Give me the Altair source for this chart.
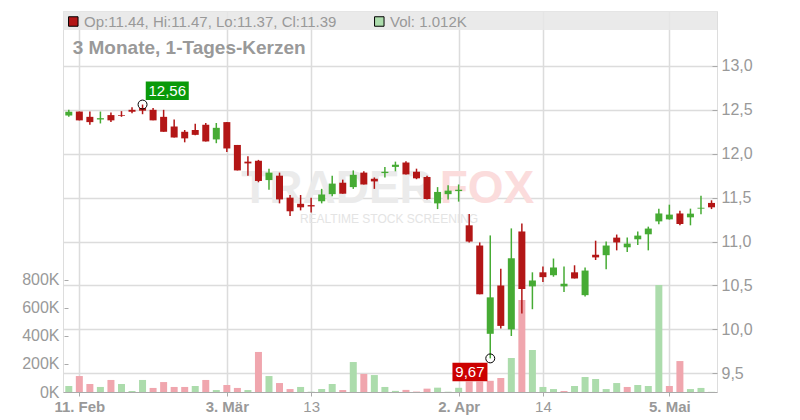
import altair as alt
import pandas as pd

# ---------------- data ----------------
dates = [
    "2025-02-10", "2025-02-11", "2025-02-12", "2025-02-13", "2025-02-14",
    "2025-02-17", "2025-02-18", "2025-02-19", "2025-02-20", "2025-02-21",
    "2025-02-24", "2025-02-25", "2025-02-26", "2025-02-27", "2025-02-28",
    "2025-03-03", "2025-03-04", "2025-03-05", "2025-03-06", "2025-03-07",
    "2025-03-10", "2025-03-11", "2025-03-12", "2025-03-13", "2025-03-14",
    "2025-03-17", "2025-03-18", "2025-03-19", "2025-03-20", "2025-03-21",
    "2025-03-24", "2025-03-25", "2025-03-26", "2025-03-27", "2025-03-28",
    "2025-03-31", "2025-04-01", "2025-04-02", "2025-04-03", "2025-04-04",
    "2025-04-07", "2025-04-08", "2025-04-09", "2025-04-10", "2025-04-11",
    "2025-04-14", "2025-04-15", "2025-04-16", "2025-04-17", "2025-04-22",
    "2025-04-23", "2025-04-24", "2025-04-25", "2025-04-28", "2025-04-29",
    "2025-04-30", "2025-05-02", "2025-05-05", "2025-05-06", "2025-05-07",
    "2025-05-08", "2025-05-09",
]

opens = [
    12.435, 12.48, 12.42, 12.39, 12.44, 12.44, 12.50, 12.52, 12.50, 12.42,
    12.31, 12.25, 12.27, 12.33, 12.163, 12.36, 12.10, 11.91, 11.92, 11.70,
    11.75, 11.50, 11.43, 11.415, 11.46, 11.54, 11.67, 11.62, 11.785, 11.715,
    11.78, 11.85, 11.90, 11.795, 11.735, 11.435, 11.54, 11.575, 11.185, 10.955,
    9.95, 10.50, 10.00, 11.115, 10.49, 10.65, 10.617, 10.49, 10.65, 10.39,
    10.85, 10.845, 11.045, 10.935, 11.026, 11.083, 11.23, 11.253, 11.32, 11.276,
    11.375, 11.44,
]
highs = [
    12.50, 12.48, 12.48, 12.48, 12.47, 12.485, 12.53, 12.56, 12.52, 12.50,
    12.39, 12.27, 12.34, 12.35, 12.35, 12.36, 12.10, 11.97, 11.93, 11.83,
    11.785, 11.53, 11.53, 11.50, 11.60, 11.75, 11.705, 11.81, 11.80, 11.73,
    11.85, 11.91, 11.915, 11.83, 11.75, 11.62, 11.64, 11.65, 11.315, 10.99,
    11.07, 10.69, 11.15, 11.205, 10.65, 10.715, 10.807, 10.715, 10.73, 10.705,
    11.01, 11.00, 11.08, 11.045, 11.115, 11.17, 11.375, 11.42, 11.35, 11.375,
    11.523, 11.47,
]
lows = [
    12.42, 12.38, 12.33, 12.345, 12.36, 12.42, 12.46, 12.45, 12.38, 12.25,
    12.185, 12.13, 12.21, 12.14, 12.12, 12.02, 11.81, 11.75, 11.675, 11.59,
    11.435, 11.29, 11.355, 11.33, 11.435, 11.515, 11.545, 11.60, 11.65, 11.60,
    11.73, 11.80, 11.765, 11.71, 11.48, 11.37, 11.48, 11.455, 10.99, 10.40,
    9.67, 10.01, 9.925, 10.18, 10.23, 10.54, 10.60, 10.425, 10.58, 10.375,
    10.79, 10.685, 10.90, 10.88, 10.96, 10.90, 11.197, 11.25, 11.185, 11.185,
    11.31, 11.37,
]
closes = [
    12.477, 12.38, 12.36, 12.405, 12.38, 12.432, 12.478, 12.49, 12.38, 12.25,
    12.185, 12.175, 12.215, 12.14, 12.295, 12.06, 11.81, 11.89, 11.69, 11.785,
    11.48, 11.345, 11.39, 11.40, 11.535, 11.66, 11.545, 11.76, 11.65, 11.685,
    11.795, 11.875, 11.765, 11.72, 11.485, 11.565, 11.58, 11.59, 11.0, 10.40,
    10.365, 10.04, 10.81, 10.46, 10.557, 10.595, 10.705, 10.52, 10.58, 10.67,
    10.82, 10.955, 10.99, 10.977, 11.068, 11.148, 11.32, 11.307, 11.20, 11.318,
    11.385, 11.39,
]
volumes_k = [
    43, 114, 57, 36, 86, 57, 7, 86, 29, 71,
    36, 36, 43, 86, 14, 50, 29, 14, 286, 114,
    64, 21, 36, 2, 21, 57, 14, 214, 129, 121,
    36, 8, 15, 3, 24, 31, 2, 30, 75, 75,
    80, 100, 243, 657, 300, 36, 21, 7, 43, 107,
    93, 21, 64, 36, 50, 43, 764, 43, 221, 21,
    29, 1.012,
]

tick_dates = ["2025-02-11", "2025-03-03", "2025-03-13", "2025-04-02", "2025-04-14", "2025-05-05"]
tick_labels = ["11. Feb", "3. Mär", "13", "2. Apr", "14", "5. Mai"]
tick_bold = [True, True, False, True, False, True]
price_ticks = [9.5, 10.0, 10.5, 11.0, 11.5, 12.0, 12.5, 13.0]
vol_ticks = [0, 200000, 400000, 600000, 800000]

title_text = "3 Monate, 1-Tages-Kerzen"

# ---------------- tables ----------------
n = len(dates)
df = pd.DataFrame({
    "date": dates, "idx": list(range(n)),
    "open": opens, "high": highs, "low": lows, "close": closes,
    "vol": [v * 1000 for v in volumes_k],
})
df["vup"] = [True] + [closes[i] >= closes[i - 1] for i in range(1, n)]

tick_idx = [dates.index(d) for d in tick_dates]

i_hi = highs.index(max(highs))
i_lo = lows.index(min(lows))
hi_df = pd.DataFrame({"idx": [i_hi], "price": [highs[i_hi]],
                      "label": [f"{highs[i_hi]:.2f}".replace(".", ",")]})
lo_df = pd.DataFrame({"idx": [i_lo], "price": [lows[i_lo]],
                      "label": [f"{lows[i_lo]:.2f}".replace(".", ",")]})
ext_df = pd.concat([hi_df, lo_df], ignore_index=True)

ohlc_text = (f"Op:{opens[-1]:.2f}, Hi:{highs[-1]:.2f}, "
             f"Lo:{lows[-1]:.2f}, Cl:{closes[-1]:.2f}")
vol_text = f"Vol: {volumes_k[-1]:.3f}K"
hdr = pd.DataFrame({"a": [0]})

# ---------------- style ----------------
W, H = 654, 381
FONT = "Liberation Sans"
GREY = "#999999"
G, R = "#46ab34", "#b31616"
VG, VR = "#acdcac", "#f0a6ae"

xscale = alt.Scale(domain=[-0.55, 61.52], nice=False, zero=False, padding=0)
price_scale = alt.Scale(domain=[9.2875, 13.625], nice=False, zero=False, padding=0)
vol_scale = alt.Scale(domain=[0, 2721000], nice=False, zero=True, padding=0)

label_expr = "".join(
    f"datum.value == {i} ? '{t}' : " for i, t in zip(tick_idx, tick_labels)
) + "''"
normal_test = " || ".join(f"datum.value == {i}" for i, b in zip(tick_idx, tick_bold) if not b)

x_axis = alt.Axis(
    values=tick_idx, labelExpr=label_expr, grid=True, gridColor="#dcdcdc",
    gridWidth=1.5, domainColor="#aaaaaa", tickColor="#aaaaaa", tickSize=4,
    labelColor=GREY, labelFontSize=15, labelFont=FONT,
    labelFontWeight={"condition": {"test": normal_test, "value": "normal"}, "value": "bold"},
    labelPadding=3, title=None, labelFlush=False,
)
price_axis = alt.Axis(
    orient="right", values=price_ticks, offset=-5, domain=False, tickSize=5,
    tickColor="#aaaaaa", labelPadding=4, grid=True, gridColor="#dcdcdc", gridWidth=1.5,
    labelFontSize=16, labelColor=GREY, labelFont=FONT, title=None,
    labelExpr="replace(format(datum.value, '.1f'), '.', ',')",
)
vol_axis = alt.Axis(
    orient="left", values=vol_ticks, offset=-5, domain=False, tickSize=4,
    tickColor="#aaaaaa", labelPadding=5, grid=False, labelFontSize=16,
    labelColor=GREY, labelFont=FONT, title=None,
    labelExpr="format(datum.value / 1000, 'd') + 'K'",
)

X = alt.X("idx:Q", scale=xscale, axis=x_axis)
candle_color = alt.condition("datum.close >= datum.open", alt.value(G), alt.value(R))

# ---------------- layers ----------------
wm_trader = alt.Chart(hdr).mark_text(
    fontSize=46, fontWeight="bold", font=FONT, color="#ebebeb", align="center", baseline="middle"
).encode(x=alt.value(274), y=alt.value(178), text=alt.value("TRADER"))
wm_fox = alt.Chart(hdr).mark_text(
    fontSize=46, fontWeight="bold", font=FONT, color="#fbdcdc", align="center", baseline="middle"
).encode(x=alt.value(424), y=alt.value(178), text=alt.value("FOX"))
wm_sub = alt.Chart(hdr).mark_text(
    fontSize=12, font=FONT, color="#e4e4e4", align="center", baseline="middle"
).encode(x=alt.value(326), y=alt.value(208), text=alt.value("REALTIME STOCK SCREENING"))

volume = alt.Chart(df).mark_bar(width=7).encode(
    x=X,
    y=alt.Y("vol:Q", scale=vol_scale, axis=vol_axis),
    color=alt.condition("datum.vup", alt.value(VG), alt.value(VR)),
)

wick = alt.Chart(df).mark_rule(strokeWidth=1.5).encode(
    x=X, y=alt.Y("low:Q", scale=price_scale, axis=price_axis), y2="high:Q", color=candle_color
)
body = alt.Chart(df).mark_bar(width=7).encode(
    x=X, y=alt.Y("open:Q", scale=price_scale, axis=price_axis), y2="close:Q", color=candle_color
)
circles = alt.Chart(ext_df).mark_point(
    shape="circle", filled=False, size=80, color="black", strokeWidth=1, opacity=1
).encode(x=X, y=alt.Y("price:Q", scale=price_scale, axis=price_axis))

hi_box = alt.Chart(hi_df).mark_rect(
    width=43, height=18.5, xOffset=24.7, yOffset=-13.7, color="#0a9a0a"
).encode(x=X, y=alt.Y("price:Q", scale=price_scale, axis=price_axis))
hi_txt = alt.Chart(hi_df).mark_text(
    dx=24.7, dy=-13.7, color="white", fontSize=15, font=FONT, align="center", baseline="middle"
).encode(x=X, y=alt.Y("price:Q", scale=price_scale, axis=price_axis), text="label:N")
lo_box = alt.Chart(lo_df).mark_rect(
    width=35, height=18.5, xOffset=-20.3, yOffset=13.5, color="#cc0000"
).encode(x=X, y=alt.Y("price:Q", scale=price_scale, axis=price_axis))
lo_txt = alt.Chart(lo_df).mark_text(
    dx=-20.3, dy=13.5, color="white", fontSize=15, font=FONT, align="center", baseline="middle"
).encode(x=X, y=alt.Y("price:Q", scale=price_scale, axis=price_axis), text="label:N")

price = alt.layer(wick, body, circles, hi_box, hi_txt, lo_box, lo_txt)

band = alt.Chart(hdr).mark_rect(color="#e6e6e6", opacity=0.85).encode(
    x=alt.value(0), x2=alt.value(W), y=alt.value(0), y2=alt.value(19)
)
sq_red = alt.Chart(hdr).mark_square(
    size=90, fill=R, stroke="black", strokeWidth=1, opacity=1
).encode(x=alt.value(10.3), y=alt.value(10.5))
sq_green = alt.Chart(hdr).mark_square(
    size=90, fill=VG, stroke="black", strokeWidth=1, opacity=1
).encode(x=alt.value(316.3), y=alt.value(10.5))
t_ohlc = alt.Chart(hdr).mark_text(
    align="left", baseline="middle", fontSize=15, font=FONT, color=GREY
).encode(x=alt.value(21), y=alt.value(10.5), text=alt.value(ohlc_text))
t_vol = alt.Chart(hdr).mark_text(
    align="left", baseline="middle", fontSize=15, font=FONT, color=GREY
).encode(x=alt.value(327), y=alt.value(10.5), text=alt.value(vol_text))
t_title = alt.Chart(hdr).mark_text(
    align="left", baseline="middle", fontSize=19, fontWeight="bold", font=FONT, color=GREY
).encode(x=alt.value(9.7), y=alt.value(36.5), text=alt.value(title_text))

chart = alt.layer(
    wm_trader, wm_fox, wm_sub, volume, price, band, sq_red, sq_green, t_ohlc, t_vol, t_title
).resolve_scale(y="independent").properties(
    width=W, height=H,
    autosize=alt.AutoSizeParams(type="none"),
    padding={"left": 55, "top": 3, "right": 75, "bottom": 24},
).configure_view(stroke="#bbbbbb", strokeWidth=1).configure(font=FONT)

chart.save("out.html", embed_options={"renderer": "svg", "actions": False})
